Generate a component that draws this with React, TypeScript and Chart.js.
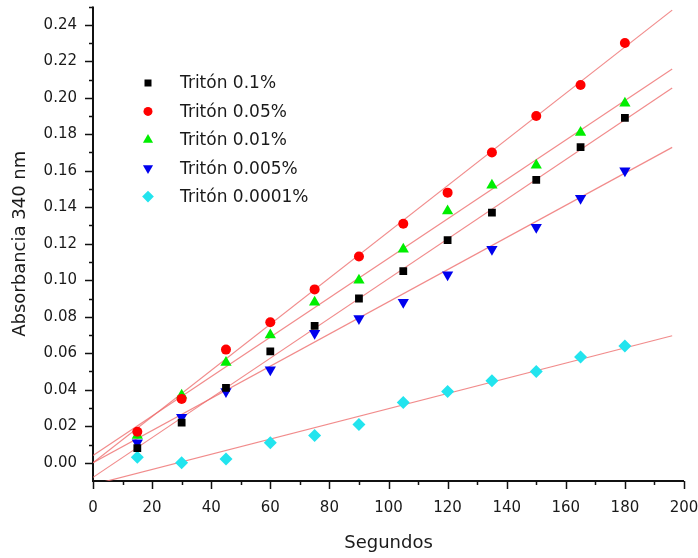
import { useEffect, useRef } from 'react';
import { Chart, registerables } from 'chart.js';
import { drawPoint } from 'chart.js/helpers';

Chart.register(...registerables);

// Sampling times (s)
const seconds = [15, 30, 45, 60, 75, 90, 105, 120, 135, 150, 165, 180];

// Absorbance at 340 nm for each Triton concentration
const triton01 = [0.008, 0.022, 0.041, 0.061, 0.075, 0.090, 0.105, 0.122, 0.137, 0.155, 0.173, 0.189];
const triton005 = [0.017, 0.035, 0.062, 0.077, 0.095, 0.113, 0.131, 0.148, 0.170, 0.190, 0.207, 0.230];
const triton001 = [0.015, 0.037, 0.055, 0.070, 0.088, 0.100, 0.117, 0.138, 0.152, 0.163, 0.181, 0.197];
const triton0005 = [0.011, 0.025, 0.039, 0.051, 0.071, 0.079, 0.088, 0.103, 0.117, 0.129, 0.145, 0.160];
const triton00001 = [0.003, 0.000, 0.002, 0.011, 0.015, 0.021, 0.033, 0.039, 0.045, 0.050, 0.058, 0.064];

const seriesLabels = ['Tritón 0.1%', 'Tritón 0.05%', 'Tritón 0.01%', 'Tritón 0.005%', 'Tritón 0.0001%'];

// Linear fits: value at the start and end of the fitted range
const fitRange = [0, 196];
const fit01 = [-0.008, 0.2053];
const fit005 = [0.0, 0.248];
const fit001 = [0.004, 0.2157];
const fit0005 = [0.0, 0.1728];
const fit00001 = [-0.012, 0.0696];

// Axis ticks
const xTicks = [0, 20, 40, 60, 80, 100, 120, 140, 160, 180, 200];
const xMinorTicks = [10, 30, 50, 70, 90, 110, 130, 150, 170, 190];
const yTicks = [0, 0.02, 0.04, 0.06, 0.08, 0.1, 0.12, 0.14, 0.16, 0.18, 0.2, 0.22, 0.24];
const yMinorTicks = [0.01, 0.03, 0.05, 0.07, 0.09, 0.11, 0.13, 0.15, 0.17, 0.19, 0.21, 0.23, 0.25];

const FONT = '"DejaVu Sans", Verdana, sans-serif';
const TEXT = '#1a1a1a';
const FIT_COLOR = 'rgba(238, 110, 110, 0.8)';

const markers = [
  { color: '#000000', pointStyle: 'rect', radius: 5.5, rotation: 0 },
  { color: '#ff0000', pointStyle: 'circle', radius: 5, rotation: 0 },
  { color: '#00ee00', pointStyle: 'triangle', radius: 6.5, rotation: 0 },
  { color: '#0000ee', pointStyle: 'triangle', radius: 6.5, rotation: 180 },
  { color: '#22e4ee', pointStyle: 'rectRot', radius: 6.5, rotation: 0 },
];

const seriesValues = [triton01, triton005, triton001, triton0005, triton00001];
const fits = [fit01, fit005, fit001, fit0005, fit00001];

const axisFrame = {
  id: 'axisFrame',
  beforeDatasetsDraw(chart: any) {
    const { ctx, chartArea, scales } = chart;
    const xs = scales.x;
    const ys = scales.y;
    ctx.save();
    ctx.strokeStyle = '#111111';
    ctx.lineWidth = 2;
    ctx.beginPath();
    ctx.moveTo(chartArea.left, chartArea.top);
    ctx.lineTo(chartArea.left, chartArea.bottom);
    ctx.lineTo(chartArea.right, chartArea.bottom);
    ctx.stroke();
    ctx.lineWidth = 1.5;
    ctx.beginPath();
    yTicks.forEach((v) => {
      const py = Math.round(ys.getPixelForValue(v)) + 0.5;
      ctx.moveTo(chartArea.left - 8, py);
      ctx.lineTo(chartArea.left, py);
    });
    yMinorTicks.forEach((v) => {
      const py = Math.round(ys.getPixelForValue(v)) + 0.5;
      ctx.moveTo(chartArea.left - 4, py);
      ctx.lineTo(chartArea.left, py);
    });
    xTicks.forEach((v) => {
      const px = Math.round(xs.getPixelForValue(v)) + 0.5;
      ctx.moveTo(px, chartArea.bottom);
      ctx.lineTo(px, chartArea.bottom + 8);
    });
    xMinorTicks.forEach((v) => {
      const px = Math.round(xs.getPixelForValue(v)) + 0.5;
      ctx.moveTo(px, chartArea.bottom);
      ctx.lineTo(px, chartArea.bottom + 4);
    });
    ctx.stroke();
    ctx.restore();
  },
};

const insetLegend = {
  id: 'insetLegend',
  afterDraw(chart: any) {
    const { ctx } = chart;
    ctx.save();
    ctx.font = `17px ${FONT}`;
    ctx.textBaseline = 'middle';
    ctx.textAlign = 'left';
    seriesLabels.forEach((label, i) => {
      const cy = 83 + i * 28.4;
      const m = markers[i];
      ctx.fillStyle = m.color;
      drawPoint(ctx, { pointStyle: m.pointStyle, radius: m.radius * 0.9, rotation: m.rotation, borderWidth: 0 } as any, 148, cy);
      ctx.fillStyle = TEXT;
      ctx.fillText(label, 180, cy + 1);
    });
    ctx.restore();
  },
};

export default function App() {
  const canvasRef = useRef<HTMLCanvasElement | null>(null);

  useEffect(() => {
    if (!canvasRef.current) return;

    const fitDatasets = fits.map((f) => ({
      type: 'line' as const,
      data: [
        { x: fitRange[0], y: f[0] },
        { x: fitRange[1], y: f[1] },
      ],
      borderColor: FIT_COLOR,
      borderWidth: 1.2,
      pointRadius: 0,
      showLine: true,
      fill: false,
      order: 10,
    }));

    const pointDatasets = seriesValues.map((vals, i) => ({
      type: 'scatter' as const,
      label: seriesLabels[i],
      data: seconds.map((s, j) => ({ x: s, y: vals[j] })),
      backgroundColor: markers[i].color,
      borderColor: markers[i].color,
      borderWidth: 0,
      pointStyle: markers[i].pointStyle,
      pointRadius: markers[i].radius,
      rotation: markers[i].rotation,
      showLine: false,
      order: 1,
    }));

    const chart = new Chart(canvasRef.current, {
      type: 'scatter',
      data: { datasets: [...fitDatasets, ...pointDatasets] as any },
      options: {
        responsive: false,
        animation: false,
        devicePixelRatio: 1,
        layout: { padding: { top: 2, right: 14, left: 0, bottom: 0 } },
        plugins: {
          legend: { display: false },
          tooltip: { enabled: false },
        },
        scales: {
          x: {
            type: 'linear',
            min: 0,
            max: 200,
            afterBuildTicks: (s: any) => {
              s.ticks = xTicks.map((v) => ({ value: v }));
            },
            afterFit: (s: any) => {
              s.height = 77;
              s.paddingLeft = 0;
              s.paddingRight = 0;
            },
            grid: { display: false },
            border: { display: false },
            ticks: {
              font: { family: FONT, size: 15 },
              color: TEXT,
              padding: 10,
              maxRotation: 0,
              autoSkip: false,
            },
            title: {
              display: true,
              text: 'Segundos',
              font: { family: FONT, size: 18 },
              color: TEXT,
              padding: { top: 0, bottom: 4 },
            },
          },
          y: {
            type: 'linear',
            min: -0.01,
            max: 0.25,
            afterBuildTicks: (s: any) => {
              s.ticks = yTicks.map((v) => ({ value: v }));
            },
            afterFit: (s: any) => {
              s.width = 93;
              s.paddingTop = 0;
              s.paddingBottom = 0;
            },
            grid: { display: false },
            border: { display: false },
            ticks: {
              font: { family: FONT, size: 15 },
              color: TEXT,
              padding: 8,
              autoSkip: false,
              callback: (v: any) => Number(v).toFixed(2),
            },
            title: {
              display: true,
              text: 'Absorbancia 340 nm',
              font: { family: FONT, size: 18 },
              color: TEXT,
              padding: { top: 10, bottom: 0 },
            },
          },
        },
      },
      plugins: [axisFrame, insetLegend],
    });

    return () => chart.destroy();
  }, []);

  return (
    <div style={{ position: 'fixed', left: 0, top: 0, width: 698, height: 558, background: '#ffffff' }}>
      <canvas ref={canvasRef} width={698} height={558} />
    </div>
  );
}
